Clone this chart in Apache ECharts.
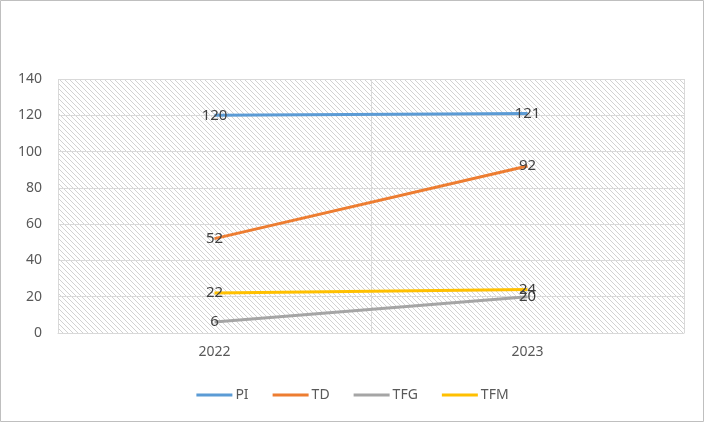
<!DOCTYPE html>
<html><head><meta charset="utf-8">
<script src="https://cdn.jsdelivr.net/npm/echarts@6/dist/echarts.min.js"></script>
<style>html,body{margin:0;padding:0;background:#fff}#c{width:705px;height:423px}</style>
</head><body><div id="c"></div>
<script>
const categories = ['2022', '2023'];
const PI = [120, 121];
const TD = [52, 92];
const TFG = [6, 20];
const TFM = [22, 24];
const yTicks = { min: 0, max: 140, interval: 20 };

const tile = 5;
const pc = document.createElement('canvas');
pc.width = tile; pc.height = tile;
const g = pc.getContext('2d');
g.fillStyle = '#ffffff'; g.fillRect(0, 0, tile, tile);
g.strokeStyle = '#d2d2d2'; g.lineWidth = 1;
g.beginPath();
g.moveTo(-1, -1); g.lineTo(tile + 1, tile + 1);
g.moveTo(-1, tile - 1); g.lineTo(1, tile + 1);
g.moveTo(tile - 1, -1); g.lineTo(tile + 1, 1);
g.stroke();

const font = '"Noto Sans", "Liberation Sans", sans-serif';
function mk(name, data, color) {
  return {
    name, type: 'line', data,
    symbol: 'circle', symbolSize: 0,
    itemStyle: { color: color },
    lineStyle: { color: color, width: 3 },
    label: { show: true, position: 'inside', color: '#404040', fontSize: 15, fontFamily: font },
    emphasis: { disabled: true },
    animation: false
  };
}
const chart = echarts.init(document.getElementById('c'));
chart.setOption({
  animation: false,
  color: ['#5B9BD5', '#ED7D31', '#A5A5A5', '#FFC000'],
  graphic: [{ type: 'rect', shape: { x: 0.5, y: 0.5, width: 703, height: 421 }, style: { fill: 'none', stroke: '#bfbfbf', lineWidth: 1 }, silent: true }],
  grid: { left: 58, right: 21, top: 79, bottom: 90, show: true, backgroundColor: { image: pc, repeat: 'repeat' }, borderWidth: 0 },
  legend: {
    top: 383, left: 'center', itemWidth: 36, itemHeight: 3, itemGap: 24,
    icon: 'rect',
    textStyle: { color: '#595959', fontSize: 14, fontFamily: font, padding: [0, 0, 0, -2] },
    data: ['PI', 'TD', 'TFG', 'TFM']
  },
  xAxis: {
    type: 'category', data: categories, boundaryGap: true,
    axisLine: { lineStyle: { color: '#d9d9d9' } },
    axisTick: { show: false },
    splitLine: { show: true, lineStyle: { color: '#d9d9d9' } },
    axisLabel: { color: '#595959', fontSize: 14, fontFamily: font, margin: 12 }
  },
  yAxis: {
    type: 'value', min: yTicks.min, max: yTicks.max, interval: yTicks.interval,
    axisLine: { show: false }, axisTick: { show: false },
    splitLine: { lineStyle: { color: '#d9d9d9' } },
    axisLabel: { color: '#595959', fontSize: 14, fontFamily: font, margin: 16 }
  },
  series: [mk('PI', PI, '#5B9BD5'), mk('TD', TD, '#ED7D31'), mk('TFG', TFG, '#A5A5A5'), mk('TFM', TFM, '#FFC000')]
});
</script></body></html>
